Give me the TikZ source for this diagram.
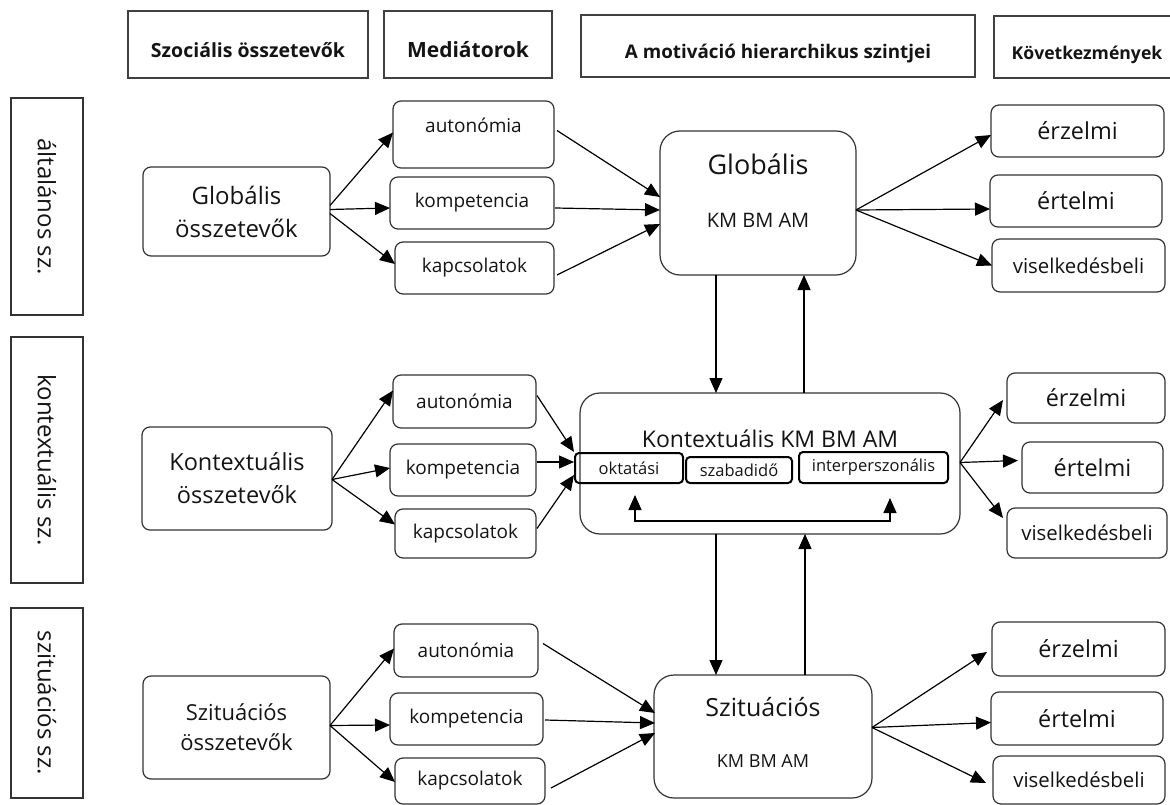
\documentclass[tikz,border=0pt]{standalone}
\usepackage{fontspec}
\setmainfont{Open Sans}
\usetikzlibrary{arrows.meta,calc}
\begin{document}
\begin{tikzpicture}[x=1pt,y=-1pt,
  every node/.style={inner sep=0pt, outer sep=0pt, text=black!92},
  hdr/.style={draw=black!75, line width=1.1pt, text height=26pt, text depth=0pt, font=\bfseries\fontsize{19}{22}\selectfont},
  side/.style={draw=black!80, line width=1.1pt, rotate=-90, font=\fontsize{24}{28}\selectfont},
  rb/.style={draw=black!80, line width=1.2pt, rounded corners=8pt, align=center},
  bigbox/.style={draw=black!80, line width=1.2pt, rounded corners=20pt},
  lf/.style={rb, font=\fontsize{24}{33}\selectfont},
  med/.style={rb, font=\fontsize{19}{22}\selectfont},
  cons/.style={rb, font=\fontsize{23.4}{26}\selectfont},
  consv/.style={rb, font=\fontsize{20.4}{24}\selectfont},
  inb/.style={draw=black, line width=2pt, rounded corners=4pt, font=\fontsize{16.5}{20}\selectfont},
  arr/.style={line width=1.2pt, -{Triangle[length=15pt,width=13pt]}},
  barr/.style={line width=1.2pt, {Triangle[length=15pt,width=13pt]}-{Triangle[length=15pt,width=13pt]}},
]
\useasboundingbox (0,0) rectangle (1170,805);

% headers
\node[hdr, font=\bfseries\fontsize{19.5}{22}\selectfont, minimum width=240pt, minimum height=67pt] (h1) at (248,44.5) {Szociális összetevők};
\node[hdr, font=\bfseries\fontsize{21}{24}\selectfont, minimum width=168pt, minimum height=67pt] (h2) at (468,44.5) {Mediátorok};
\node[hdr, font=\bfseries\fontsize{18.8}{22}\selectfont, minimum width=394pt, minimum height=62pt] (h3) at (778,46) {A motiváció hierarchikus szintjei};
\node[hdr, font=\bfseries\fontsize{17.6}{22}\selectfont, minimum width=186pt, minimum height=62pt] (h4) at (1087,47) {Következmények};

% side labels
\node[side, minimum width=217pt, minimum height=72pt] (s1) at (47,206.5) {általános sz.};
\node[side, minimum width=246pt, minimum height=72pt] (s2) at (47,460) {kontextuális sz.};
\node[side, minimum width=190pt, minimum height=72pt] (s3) at (47,703) {szituációs sz.};

% left boxes
\node[lf, minimum width=187pt, minimum height=89pt] (L1) at (236.5,211.5) {Globális\\összetevők};
\node[lf, font=\fontsize{23.5}{33}\selectfont, minimum width=190pt, minimum height=103pt] (L2) at (237,478.5) {Kontextuális\\összetevők};
\node[lf, font=\fontsize{22}{30}\selectfont, minimum width=187pt, minimum height=103pt] (L3) at (236.5,727.5) {Szituációs\\összetevők};

% mediators
\node[med, minimum width=161pt, minimum height=67pt, text height=14pt, text depth=17pt] (a1) at (473.5,134.5) {autonómia};
\node[med, minimum width=164pt, minimum height=52pt] (k1) at (472,203) {kompetencia};
\node[med, minimum width=159pt, minimum height=52pt] (c1) at (474.5,268) {kapcsolatok};
\node[med, minimum width=143pt, minimum height=53pt] (a2) at (464.5,401.5) {autonómia};
\node[med, minimum width=146pt, minimum height=52pt] (k2) at (463,470) {kompetencia};
\node[med, minimum width=141pt, minimum height=49pt] (c2) at (465.5,533.5) {kapcsolatok};
\node[med, minimum width=144pt, minimum height=53pt] (a3) at (466,650.5) {autonómia};
\node[med, minimum width=153pt, minimum height=52pt] (k3) at (466.5,719) {kompetencia};
\node[med, minimum width=150pt, minimum height=46pt] (c3) at (470,781) {kapcsolatok};

% central boxes
\node[bigbox, minimum width=196pt, minimum height=144pt] (G) at (758,203) {};
\node[font=\fontsize{27}{30}\selectfont, anchor=base] (Gt1) at (758,175) {Globális};
\node[font=\fontsize{20}{24}\selectfont, anchor=base] (Gt2) at (758,228) {KM BM AM};

\node[bigbox, minimum width=380pt, minimum height=141pt] (K) at (770,463.5) {};
\node[font=\fontsize{23}{26}\selectfont, anchor=base] (Kt) at (770,447) {Kontextuális KM BM AM};
\node[inb, minimum width=108pt, minimum height=30pt] (okt) at (629,468) {oktatási};
\node[inb, minimum width=106pt, minimum height=26pt] (szab) at (739,470) {szabadidő};
\node[inb, minimum width=149pt, minimum height=31pt] (int) at (873.5,467.5) {interperszonális};

\node[bigbox, minimum width=218pt, minimum height=123pt] (S) at (763,736.5) {};
\node[font=\fontsize{25}{28}\selectfont, anchor=base] (St1) at (763,716) {Szituációs};
\node[font=\fontsize{18}{22}\selectfont, anchor=base] (St2) at (763,767) {KM BM AM};

% consequences
\node[cons, minimum width=173pt, minimum height=52pt] (e1) at (1077.5,131) {érzelmi};
\node[cons, minimum width=172pt, minimum height=52pt] (t1) at (1076,201) {értelmi};
\node[consv, minimum width=173pt, minimum height=53pt] (v1) at (1078.5,265.5) {viselkedésbeli};
\node[cons, minimum width=158pt, minimum height=50pt] (e2) at (1086,398) {érzelmi};
\node[cons, minimum width=141pt, minimum height=51pt] (t2) at (1092.5,467.5) {értelmi};
\node[consv, minimum width=160pt, minimum height=50pt] (v2) at (1087,533) {viselkedésbeli};
\node[cons, minimum width=173pt, minimum height=54pt] (e3) at (1078.5,649) {érzelmi};
\node[cons, minimum width=172pt, minimum height=53pt] (t3) at (1077,718.5) {értelmi};
\node[consv, minimum width=172pt, minimum height=48pt] (v3) at (1079,780) {viselkedésbeli};

% level 1 arrows
\draw[arr] ($(L1.east)+(0,-6)$) -- ($(a1.west)+(0,-2)$);
\draw[arr] ($(L1.east)+(0,-2)$) -- ($(k1.west)+(0,5)$);
\draw[arr] ($(L1.east)+(0,2)$) -- ($(c1.west)+(0,-4)$);
\draw[arr] ($(a1.east)+(3,-4)$) -- ($(G.west)+(0,-6)$);
\draw[arr] ($(k1.east)+(1,5)$) -- ($(G.west)+(0,7)$);
\draw[arr] ($(c1.east)+(3,7)$) -- ($(G.west)+(0,21)$);
\draw[arr] ($(G.east)+(0,7)$) -- ($(e1.west)+(0,4)$);
\draw[arr] ($(G.east)+(0,7)$) -- ($(t1.west)+(0,8)$);
\draw[arr] ($(G.east)+(0,7)$) -- (v1.west);

% vertical G <-> K
\coordinate (gd) at ($(G.south)+(-42,0)$);
\coordinate (gu) at ($(G.south)+(46,0)$);
\draw[arr] (gd) -- (gd |- K.north);
\draw[arr] (gu |- K.north) -- (gu);

% level 2 arrows
\draw[arr] ($(L2.east)+(0,1)$) -- ($(a2.west)+(0,-11)$);
\draw[arr] ($(L2.east)+(0,1)$) -- ($(k2.west)+(0,-2)$);
\draw[arr] ($(L2.east)+(0,1)$) -- ($(c2.west)+(0,-9)$);
\draw[arr] ($(a2.east)+(1,-6)$) -- ($(okt.west)+(-1,-16)$);
\draw[arr] ($(k2.east)+(1,-8)$) -- ($(okt.west)+(-1,-6)$);
\draw[arr] ($(c2.east)+(1,-5)$) -- ($(okt.west)+(-1,7)$);
\draw[arr] ($(K.east)+(0,-1)$) -- ($(e2.west)+(-4,2)$);
\draw[arr] ($(K.east)+(0,-1)$) -- ($(t2.west)+(-4,-7)$);
\draw[arr] ($(K.east)+(0,-1)$) -- ($(v2.west)+(-4,-15)$);

% bracket inside K
\coordinate (bl) at ($(okt.south |- K.south)+(6,-13)$);
\coordinate (br) at ($(int.south |- K.south)+(16.5,-13)$);
\draw[barr] ($(okt.south -| bl)+(0,12)$) -- (bl) -- (br) -- ($(int.south -| br)+(0,15)$);

% vertical K <-> S
\coordinate (kd) at ($(K.south)+(-54,0)$);
\coordinate (ku) at ($(K.south)+(35,0)$);
\draw[arr] (kd) -- (kd |- S.north);
\draw[arr] (ku |- S.north) -- (ku);

% level 3 arrows
\draw[arr] ($(L3.east)+(0,-2)$) -- ($(a3.west)+(0,-2)$);
\draw[arr] ($(L3.east)+(0,-2)$) -- ($(k3.west)+(0,6)$);
\draw[arr] ($(L3.east)+(0,-2)$) -- ($(c3.west)+(0,1)$);
\draw[arr] ($(a3.east)+(5,-7)$) -- ($(S.west)+(1,-23.5)$);
\draw[arr] ($(k3.east)+(2,1)$) -- ($(S.west)+(1,-13.5)$);
\draw[arr] ($(c3.east)+(6,7)$) -- ($(S.west)+(1,-3.5)$);
\draw[arr] ($(S.east)+(0,-9)$) -- ($(e3.west)+(-5,3)$);
\draw[arr] ($(S.east)+(0,-9)$) -- ($(t3.west)+(0,4)$);
\draw[arr] ($(S.east)+(0,-9)$) -- ($(v3.west)+(-7,3)$);
\end{tikzpicture}
\end{document}
